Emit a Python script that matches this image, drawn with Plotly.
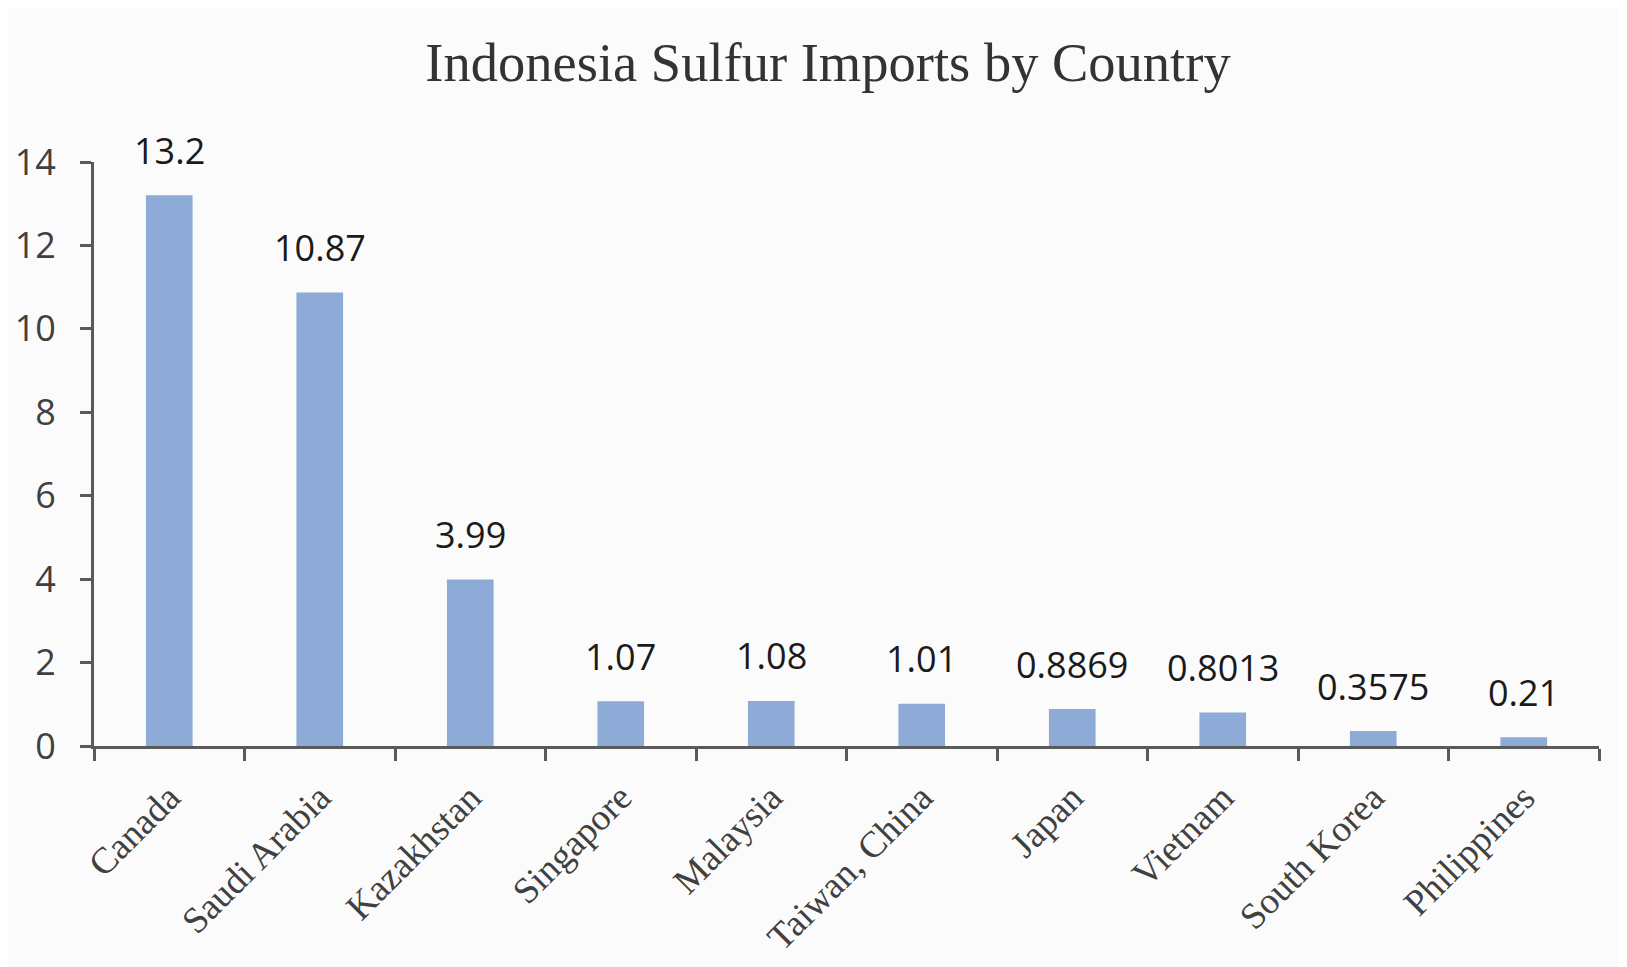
import plotly.graph_objects as go

countries = ["Canada", "Saudi Arabia", "Kazakhstan", "Singapore", "Malaysia",
             "Taiwan, China", "Japan", "Vietnam", "South Korea", "Philippines"]
imports = [13.2, 10.87, 3.99, 1.07, 1.08, 1.01, 0.8869, 0.8013, 0.3575, 0.21]
labels = ["13.2", "10.87", "3.99", "1.07", "1.08", "1.01", "0.8869", "0.8013", "0.3575", "0.21"]
y_ticks = [0, 2, 4, 6, 8, 10, 12, 14]

fig = go.Figure()
fig.add_trace(go.Bar(
    x=countries, y=imports,
    marker=dict(color="#8DABD6", line=dict(width=0)),
    hoverinfo="x+y",
))

for c, v, t in zip(countries, imports, labels):
    fig.add_annotation(x=c, y=v, text=t, showarrow=False, yanchor="middle",
                       yshift=45, font=dict(family="Open Sans", size=36, color="#1a1a1a"))

fig.update_layout(
    width=1627, height=967,
    paper_bgcolor="#FBFBFB", plot_bgcolor="#FBFBFB",
    margin=dict(l=86, r=36, t=154, b=229),
    bargap=0.69,
    showlegend=False,
    title=dict(text="Indonesia Sulfur Imports by Country", x=0.504, xanchor="center",
               y=0.944, yanchor="middle",
               font=dict(family="Liberation Serif", size=54.5, color="#333333")),
)
fig.update_xaxes(
    tickangle=-45, tickson="boundaries", ticks="outside", ticklen=12, tickwidth=3,
    tickcolor="#5a5a5a", showline=True, linecolor="#5a5a5a", linewidth=3,
    showgrid=False, ticklabelstandoff=12, automargin=False,
    tickfont=dict(family="Liberation Serif", size=37, color="#404040"),
)
fig.update_yaxes(
    range=[0, 14], tickvals=y_ticks, ticks="outside", ticklen=11, tickwidth=3,
    tickcolor="#5a5a5a", showline=True, linecolor="#5a5a5a", linewidth=3,
    showgrid=False, zeroline=False, ticklabelstandoff=17, automargin=False,
    tickfont=dict(family="Open Sans", size=36, color="#404040"),
)

fig.write_html("out.html")
